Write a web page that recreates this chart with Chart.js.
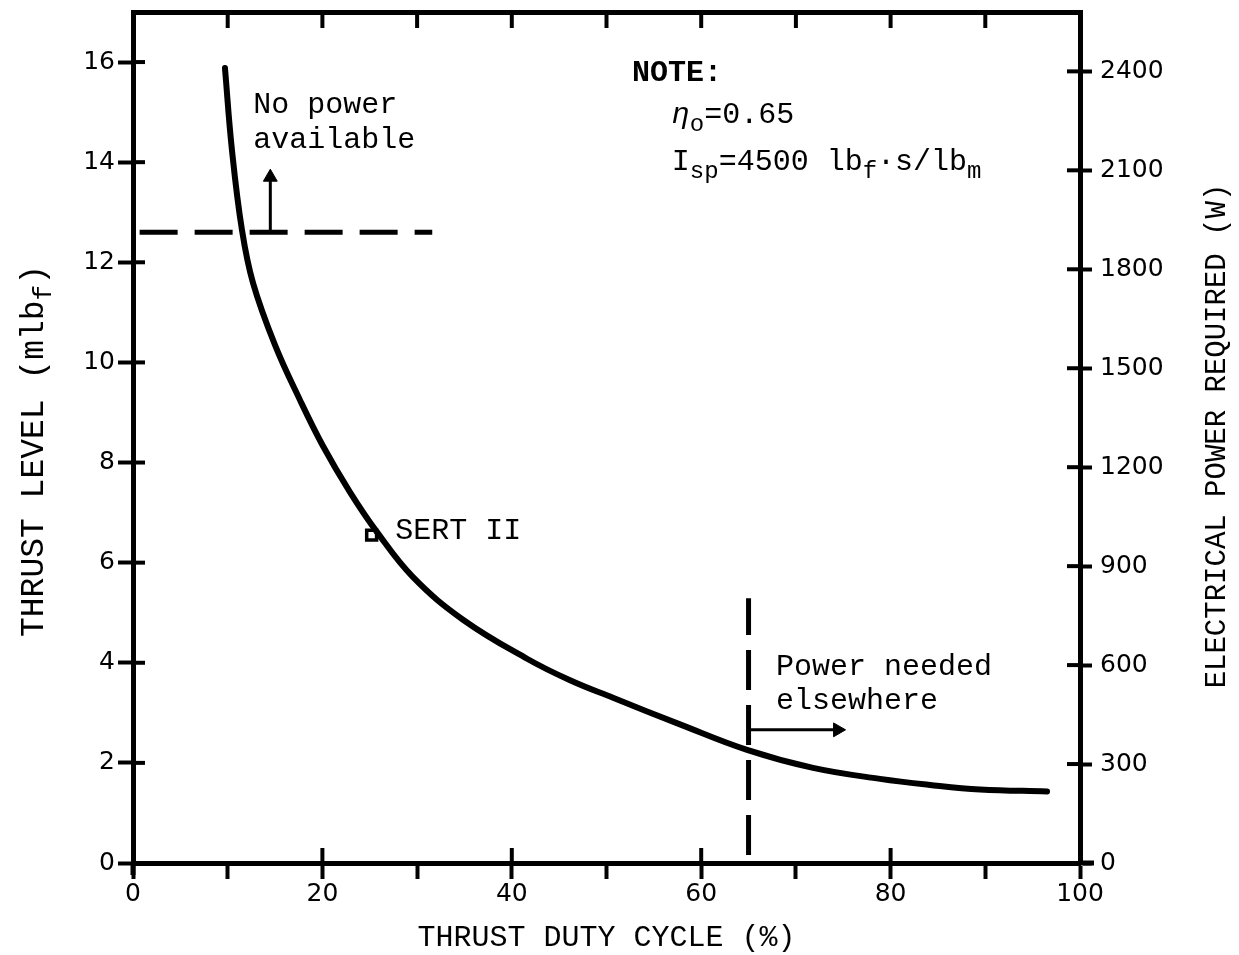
<!DOCTYPE html>
<html><head><meta charset="utf-8">
<script src="https://cdn.jsdelivr.net/npm/chart.js@4/dist/chart.umd.min.js"></script>
<style>html,body{margin:0;padding:0;background:#fff}canvas{display:block}</style>
</head><body>
<canvas id="c" width="1239" height="955"></canvas>
<script>
// ---- data ----
const dutyCycle   = [9.71, 10.45, 11.51, 12.67, 14.99, 17.63, 20.06, 22.91, 25.77, 29.57, 34.85, 41.61, 46.15, 50.69, 57.76, 64.84, 71.81, 78.88, 84.16, 89.44, 96.52];
const thrustLevel = [15.88, 14.24, 12.64, 11.59, 10.35, 9.25, 8.33, 7.41, 6.61, 5.71, 4.86, 4.08, 3.65, 3.30, 2.77, 2.26, 1.90, 1.68, 1.56, 1.47, 1.43];

const sertDuty = [25.2];
const sertThrust = [6.55];

const noPowerDuty = [0.7, 31.6];
const noPowerThrust = [12.6, 12.6];
const cutoffDuty = [65, 65];
const cutoffThrust = [0.16, 5.29];
const upArrowDuty = [14.5, 14.5];
const upArrowThrust = [12.6, 13.7];
const rightArrowDuty = [65, 74.4];
const rightArrowThrust = [2.66, 2.66];

const xTicks = [0, 10, 20, 30, 40, 50, 60, 70, 80, 90, 100];
const xLabelTicks = [0, 20, 40, 60, 80, 100];
const thrustTicks = [0, 2, 4, 6, 8, 10, 12, 14, 16];
const powerTicks = [0, 300, 600, 900, 1200, 1500, 1800, 2100, 2400];
const xRange = [0, 100];
const thrustRange = [0, 17];
const powerRange = [0, 2580];

const zip = (xs, ys) => xs.map((x, i) => ({x: x, y: ys[i]}));

const MONO = '"Liberation Mono", "DejaVu Sans Mono", monospace';
const SANS = '"DejaVu Sans", sans-serif';

function setFont(ctx, r, size) {
  const fs = r.sub ? Math.round(size * 0.8) : size;
  ctx.font = (r.italic ? 'italic ' : '') + (r.bold ? 'bold ' : '') + fs + 'px ' + MONO;
}
function drawRuns(ctx, runs, x, y, size) {
  let cx = x;
  runs.forEach(r => {
    setFont(ctx, r, size);
    ctx.fillText(r.t, cx, r.sub ? y + size * 0.32 : y);
    cx += ctx.measureText(r.t).width;
  });
  return cx - x;
}
function runsWidth(ctx, runs, size) {
  let w = 0;
  runs.forEach(r => { setFont(ctx, r, size); w += ctx.measureText(r.t).width; });
  return w;
}

const decor = {
  id: 'decor',
  afterDraw(chart) {
    const ctx = chart.ctx;
    const xs = chart.scales.x, ys = chart.scales.y, y1 = chart.scales.y1;
    const a = chart.chartArea;
    ctx.save();
    ctx.strokeStyle = '#000';
    ctx.lineWidth = 4;
    const line = (x0, y0, x2, y2) => { ctx.beginPath(); ctx.moveTo(x0, y0); ctx.lineTo(x2, y2); ctx.stroke(); };
    // inward parts of tick marks
    xLabelTicks.forEach(v => { if (v === xRange[0] || v === xRange[1]) return; const p = xs.getPixelForValue(v); line(p, a.bottom, p, a.bottom - 15); });
    thrustTicks.forEach(v => { if (v === 0) return; const p = ys.getPixelForValue(v); line(a.left, p, a.left + 12, p); });
    powerTicks.forEach(v => { if (v === 0) return; const p = y1.getPixelForValue(v); line(a.right, p, a.right - 13, p); });
    xTicks.forEach(v => { if (v === xRange[0] || v === xRange[1]) return; const p = xs.getPixelForValue(v); line(p, a.top, p, a.top + 16); });
    // axis line overhangs
    ctx.lineWidth = 5;
    line(a.right, a.bottom, a.right + 14, a.bottom);
    line(a.left, a.bottom, a.left, a.bottom + 12);

    ctx.fillStyle = '#000';
    ctx.textBaseline = 'middle';
    ctx.textAlign = 'left';
    const X = v => xs.getPixelForValue(v), Y = v => ys.getPixelForValue(v);

    drawRuns(ctx, [{t: 'No power'}], X(12.7), Y(15.14), 30);
    drawRuns(ctx, [{t: 'available'}], X(12.7), Y(14.44), 30);
    drawRuns(ctx, [{t: 'NOTE:', bold: true}], X(52.7), Y(15.78), 30);
    drawRuns(ctx, [{t: 'η', italic: true}, {t: 'o', sub: true}, {t: '=0.65'}], X(56.9), Y(14.94), 30);
    drawRuns(ctx, [{t: 'I'}, {t: 'sp', sub: true}, {t: '=4500 lb'}, {t: 'f', sub: true}, {t: '·s/lb'}, {t: 'm', sub: true}], X(56.9), Y(14.0), 30);
    drawRuns(ctx, [{t: 'SERT II'}], X(27.7), Y(6.63), 30);
    drawRuns(ctx, [{t: 'Power needed'}], X(67.9), Y(3.91), 30);
    drawRuns(ctx, [{t: 'elsewhere'}], X(67.9), Y(3.24), 30);

    // left axis title (with subscript)
    const lt = [{t: 'THRUST LEVEL (mlb'}, {t: 'f', sub: true}, {t: ')'}];
    ctx.save();
    ctx.translate(34, 451);
    ctx.rotate(-Math.PI / 2);
    const lw = runsWidth(ctx, lt, 33);
    drawRuns(ctx, lt, -lw / 2, 0, 33);
    ctx.restore();

    // right axis title (reads bottom to top)
    const rt = [{t: 'ELECTRICAL POWER REQUIRED (W)'}];
    ctx.save();
    ctx.translate(1217, 436);
    ctx.rotate(-Math.PI / 2);
    const rw = runsWidth(ctx, rt, 29);
    drawRuns(ctx, rt, -rw / 2, 0, 29);
    ctx.restore();
    ctx.restore();
  }
};

new Chart(document.getElementById('c'), {
  type: 'scatter',
  data: {
    datasets: [
      {label: 'Thrust level', data: zip(dutyCycle, thrustLevel), showLine: true, borderColor: '#000', borderWidth: 6,
       pointRadius: 0, tension: 0.4, order: 0, borderCapStyle: 'round'},
      {label: 'SERT II', data: zip(sertDuty, sertThrust), pointStyle: 'rect', pointRadius: 7,
       backgroundColor: '#fff', borderColor: '#000', borderWidth: 3.5, order: 5},
      {label: 'No power available', data: zip(noPowerDuty, noPowerThrust), showLine: true, borderColor: '#000',
       borderWidth: 5, borderDash: [38, 17], pointRadius: 0, order: 1},
      {label: 'Power needed elsewhere', data: zip(cutoffDuty, cutoffThrust), showLine: true, borderColor: '#000',
       borderWidth: 5, borderDash: [40, 15], pointRadius: 0, order: 1},
      {label: 'up arrow', data: zip(upArrowDuty, upArrowThrust), showLine: true, borderColor: '#000', borderWidth: 3,
       pointStyle: 'triangle', pointRadius: [0, 8], backgroundColor: '#000', pointBorderWidth: 1, order: 2},
      {label: 'right arrow', data: zip(rightArrowDuty, rightArrowThrust), showLine: true, borderColor: '#000', borderWidth: 3,
       pointStyle: 'triangle', pointRotation: 90, pointRadius: [0, 8], backgroundColor: '#000', pointBorderWidth: 1, order: 2}
    ]
  },
  options: {
    responsive: false,
    animation: false,
    devicePixelRatio: 1,
    layout: {padding: {top: 12, left: 0, right: 0, bottom: 0}},
    plugins: {legend: {display: false}, tooltip: {enabled: false}},
    scales: {
      x: {
        type: 'linear', position: 'bottom', min: xRange[0], max: xRange[1],
        afterBuildTicks: s => { s.ticks = xTicks.map(v => ({value: v})); },
        ticks: {callback: v => xLabelTicks.includes(v) ? String(v) : '', font: {family: SANS, size: 25}, color: '#000',
                padding: 0, maxRotation: 0, autoSkip: false},
        grid: {drawOnChartArea: false, drawTicks: true, tickLength: 16, tickWidth: 4, tickColor: '#000'},
        border: {display: true, width: 5, color: '#000'},
        title: {display: true, text: 'THRUST DUTY CYCLE (%)', font: {family: MONO, size: 30, lineHeight: 1}, color: '#000',
                padding: {top: 0, bottom: 2}},
        afterFit: s => { s.height = 92; s.paddingLeft = 0; s.paddingRight = 0; }
      },
      x2: {
        type: 'linear', position: 'top', min: xRange[0], max: xRange[1],
        ticks: {display: false},
        grid: {drawOnChartArea: false, drawTicks: false},
        border: {display: true, width: 5, color: '#000'},
        afterFit: s => { s.height = 0; s.paddingLeft = 0; s.paddingRight = 0; }
      },
      y: {
        type: 'linear', position: 'left', min: thrustRange[0], max: thrustRange[1],
        afterBuildTicks: s => { s.ticks = thrustTicks.map(v => ({value: v})); },
        ticks: {callback: v => String(v), font: {family: SANS, size: 25}, color: '#000', padding: 3, autoSkip: false},
        grid: {drawOnChartArea: false, drawTicks: true, tickLength: 15, tickWidth: 4, tickColor: '#000'},
        border: {display: true, width: 5, color: '#000'},
        afterFit: s => { s.width = 133; s.paddingTop = 0; s.paddingBottom = 0; }
      },
      y1: {
        type: 'linear', position: 'right', min: powerRange[0], max: powerRange[1],
        afterBuildTicks: s => { s.ticks = powerTicks.map(v => ({value: v})); },
        ticks: {callback: v => String(v), font: {family: SANS, size: 25}, color: '#000', padding: 8, autoSkip: false},
        grid: {drawOnChartArea: false, drawTicks: true, tickLength: 12, tickWidth: 4, tickColor: '#000'},
        border: {display: true, width: 5, color: '#000'},
        afterFit: s => { s.width = 159; s.paddingTop = 0; s.paddingBottom = 0; }
      }
    }
  },
  plugins: [decor]
});
</script>
</body></html>
